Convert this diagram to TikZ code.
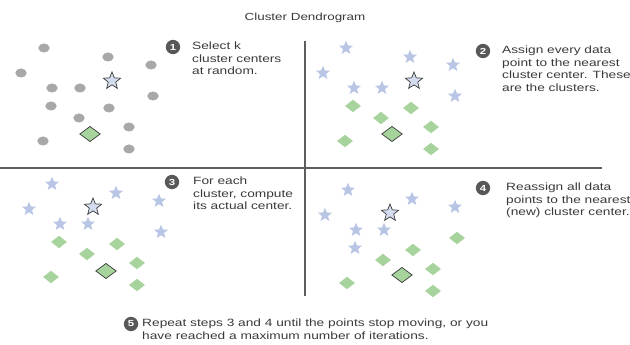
\documentclass[tikz,border=0pt]{standalone}
\usepackage{fontspec}
\setmainfont{Liberation Sans}[FakeStretch=1.3]
\usetikzlibrary{shapes.geometric, positioning}
\definecolor{dotgray}{HTML}{A8A8A8}
\definecolor{starblue}{HTML}{B8C5E4}
\definecolor{diamgreen}{HTML}{A6D49C}
\definecolor{inkgray}{HTML}{3A3A3A}
\definecolor{rulegray}{HTML}{5E5E5E}

\tikzset{
  dotpt/.style={ellipse, fill=dotgray, inner sep=0, minimum width=0.34cm, minimum height=0.27cm},
  starpt/.style={star, star points=5, star point ratio=2.3, fill=starblue, inner sep=0, minimum size=0.44cm},
  diampt/.style={diamond, fill=diamgreen, inner sep=0, minimum width=0.48cm, minimum height=0.38cm},
  centerstar/.style={starpt, fill=starblue!60, draw=inkgray, line width=0.6pt, minimum size=0.54cm},
  centerdiam/.style={diampt, draw=inkgray, line width=0.6pt, minimum width=0.62cm, minimum height=0.46cm},
  stepnum/.style={circle, fill=inkgray!85, text=white, font=\fontsize{7.5}{7.5}\selectfont\bfseries, inner sep=0, minimum size=0.43cm},
  steptext/.style={anchor=north west, inner sep=0, align=left, text=inkgray, font=\fontsize{9}{10.6}\selectfont}
}

\begin{document}
\begin{tikzpicture}[x=0.03cm, y=-0.03cm]
  \useasboundingbox (0,0) rectangle (630,345);
  \def\ptlist{44/48,108/57,151/65,21/73,52/88,80/88,153/96,51/106,109/108,79/118,129/127,43/141,129/149}

  % Title
  \node[text=inkgray, font=\fontsize{8.8}{10}\selectfont] (title) at (305,18) {Cluster Dendrogram};

  % Quadrant rules
  \coordinate (hl) at (0,168);
  \coordinate (hr) at (602,168);
  \coordinate (vt) at (305,41);
  \coordinate (vb) at (305,296);
  \draw[rulegray, line width=1pt] (hl) -- (hr);
  \draw[rulegray, line width=1pt] (vt) -- (vb);

  % Step 1: data and random centers
  \begin{scope}
    \foreach \x/\y [count=\i] in \ptlist
      \node[dotpt] (a\i) at (\x,\y) {};
    \node[centerstar] (a-s) at (112,81) {};
    \node[centerdiam] (a-d) at (90,134) {};
  \end{scope}
  \node[stepnum] (n1) at (173,47) {1};
  \node[steptext] (t1) at (192,42) {Select k\\cluster centers\\at random.};

  % Step 2: assign points
  \begin{scope}[shift={(302,0)}]
    \foreach \x/\y [count=\i] in \ptlist {
      \ifnum\i<8 \node[starpt] (b\i) at (\x,\y) {};
      \else \node[diampt] (b\i) at (\x,\y) {}; \fi
    }
    \node[centerstar] (b-s) at (112,81) {};
    \node[centerdiam] (b-d) at (90,134) {};
  \end{scope}
  \node[stepnum] (n2) at (483,51) {2};
  \node[steptext] (t2) at (502,46) {Assign every data\\point to the nearest\\cluster center. These\\are the clusters.};

  % Step 3: recompute centers
  \begin{scope}[shift={(8,136)}]
    \foreach \x/\y [count=\i] in \ptlist {
      \ifnum\i<8 \node[starpt] (c\i) at (\x,\y) {};
      \else \node[diampt] (c\i) at (\x,\y) {}; \fi
    }
    \node[centerstar] (c-s) at (85,71) {};
    \node[centerdiam] (c-d) at (98,135) {};
  \end{scope}
  \node[stepnum] (n3) at (172,182) {3};
  \node[steptext] (t3) at (193,177) {For each\\cluster, compute\\its actual center.};

  % Step 4: reassign points
  \begin{scope}[shift={(304,142)}]
    \foreach \x/\y [count=\i] in \ptlist {
      \ifnum\i<7 \node[starpt] (d\i) at (\x,\y) {};
      \else\ifnum\i=8 \node[starpt] (d\i) at (\x,\y) {};
      \else \node[diampt] (d\i) at (\x,\y) {}; \fi\fi
    }
    \node[centerstar] (d-s) at (86,71) {};
    \node[centerdiam] (d-d) at (98,133) {};
  \end{scope}
  \node[stepnum] (n4) at (483,188) {4};
  \node[steptext] (t4) at (506,183) {Reassign all data\\points to the nearest\\(new) cluster center.};

  % Step 5
  \node[stepnum] (n5) at (131,324) {5};
  \node[steptext] (t5) at (142,319) {Repeat steps 3 and 4 until the points stop moving, or you\\have reached a maximum number of iterations.};
\end{tikzpicture}
\end{document}
